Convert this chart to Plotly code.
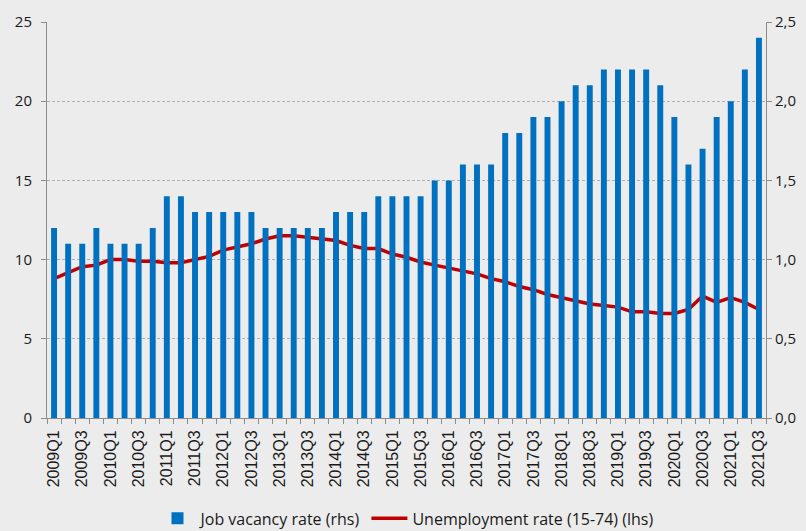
import plotly.graph_objects as go

# --- Data ---

quarters = [f"{y}Q{q}" for y in range(2009, 2022) for q in range(1, 5)][:51]

job_vacancy = [
    1.2, 1.1, 1.1, 1.2, 1.1, 1.1, 1.1, 1.2, 1.4, 1.4,
    1.3, 1.3, 1.3, 1.3, 1.3, 1.2, 1.2, 1.2, 1.2, 1.2,
    1.3, 1.3, 1.3, 1.4, 1.4, 1.4, 1.4, 1.5, 1.5, 1.6,
    1.6, 1.6, 1.8, 1.8, 1.9, 1.9, 2.0, 2.1, 2.1, 2.2,
    2.2, 2.2, 2.2, 2.1, 1.9, 1.6, 1.7, 1.9, 2.0, 2.2,
    2.4,
]

unemployment = [
    8.8, 9.2, 9.55, 9.65, 10.0, 10.0, 9.9, 9.9, 9.8, 9.8,
    10.0, 10.2, 10.6, 10.8, 11.0, 11.3, 11.5, 11.5, 11.4, 11.35,
    11.2, 10.9, 10.7, 10.7, 10.35, 10.15, 9.85, 9.65, 9.45, 9.3,
    9.1, 8.8, 8.6, 8.3, 8.1, 7.8, 7.6, 7.4, 7.2, 7.1,
    7.0, 6.7, 6.7, 6.6, 6.6, 6.85, 7.7, 7.3, 7.6, 7.3,
    6.85,
]

BG = "#ececec"
AXIS = "#8c8c8c"
FONT = "Open Sans"

fig = go.Figure()

fig.add_trace(
    go.Bar(
        x=quarters,
        y=job_vacancy,
        yaxis="y2",
        name="Job vacancy rate (rhs)",
        marker=dict(color="#0070c0", line=dict(width=0)),
    )
)
fig.add_trace(
    go.Scatter(
        x=quarters,
        y=unemployment,
        mode="lines",
        name="Unemployment rate (15-74) (lhs)",
        line=dict(color="#c00000", width=3.5),
    )
)

# the page body adds an 8px margin, so the figure is a little smaller
fig.update_layout(
    width=798,
    height=523,
    paper_bgcolor=BG,
    plot_bgcolor=BG,
    separators=", ",
    bargap=0.58,
    margin=dict(l=39, r=40, t=14, b=113),
    font=dict(family=FONT, size=15, color="#1a1a1a"),
    xaxis=dict(
        type="category",
        tickmode="linear",
        tick0=0,
        dtick=1,
        ticklabelstep=2,
        tickangle=-90,
        tickson="boundaries",
        ticks="outside",
        ticklen=5,
        tickcolor=AXIS,
        ticklabelstandoff=5,
        showline=True,
        linecolor=AXIS,
        linewidth=1,
        showgrid=False,
        automargin=False,
        tickfont=dict(family="Liberation Sans", size=16),
    ),
    yaxis=dict(
        range=[0, 25],
        dtick=5,
        showgrid=True,
        gridcolor="#b0b0b0",
        griddash="3px,2px",
        gridwidth=1,
        zeroline=False,
        showline=True,
        linecolor=AXIS,
        ticks="outside",
        ticklen=5,
        tickcolor=AXIS,
        ticklabelstandoff=6,
        automargin=False,
    ),
    yaxis2=dict(
        range=[0, 2.5],
        dtick=0.5,
        tickformat=".1f",
        overlaying="y",
        side="right",
        showgrid=False,
        zeroline=False,
        showline=True,
        linecolor=AXIS,
        ticks="outside",
        ticklen=5,
        tickcolor=AXIS,
        automargin=False,
    ),
    legend=dict(
        orientation="h",
        x=0.5,
        xanchor="center",
        xref="paper",
        y=0.024,
        yref="container",
        yanchor="middle",
        traceorder="normal",
        itemwidth=36,
        font=dict(family=FONT, size=16),
        bgcolor="rgba(0,0,0,0)",
    ),
)

fig.write_html(
    "out.html",
    post_script=f"document.body.style.backgroundColor = '{BG}';",
)
